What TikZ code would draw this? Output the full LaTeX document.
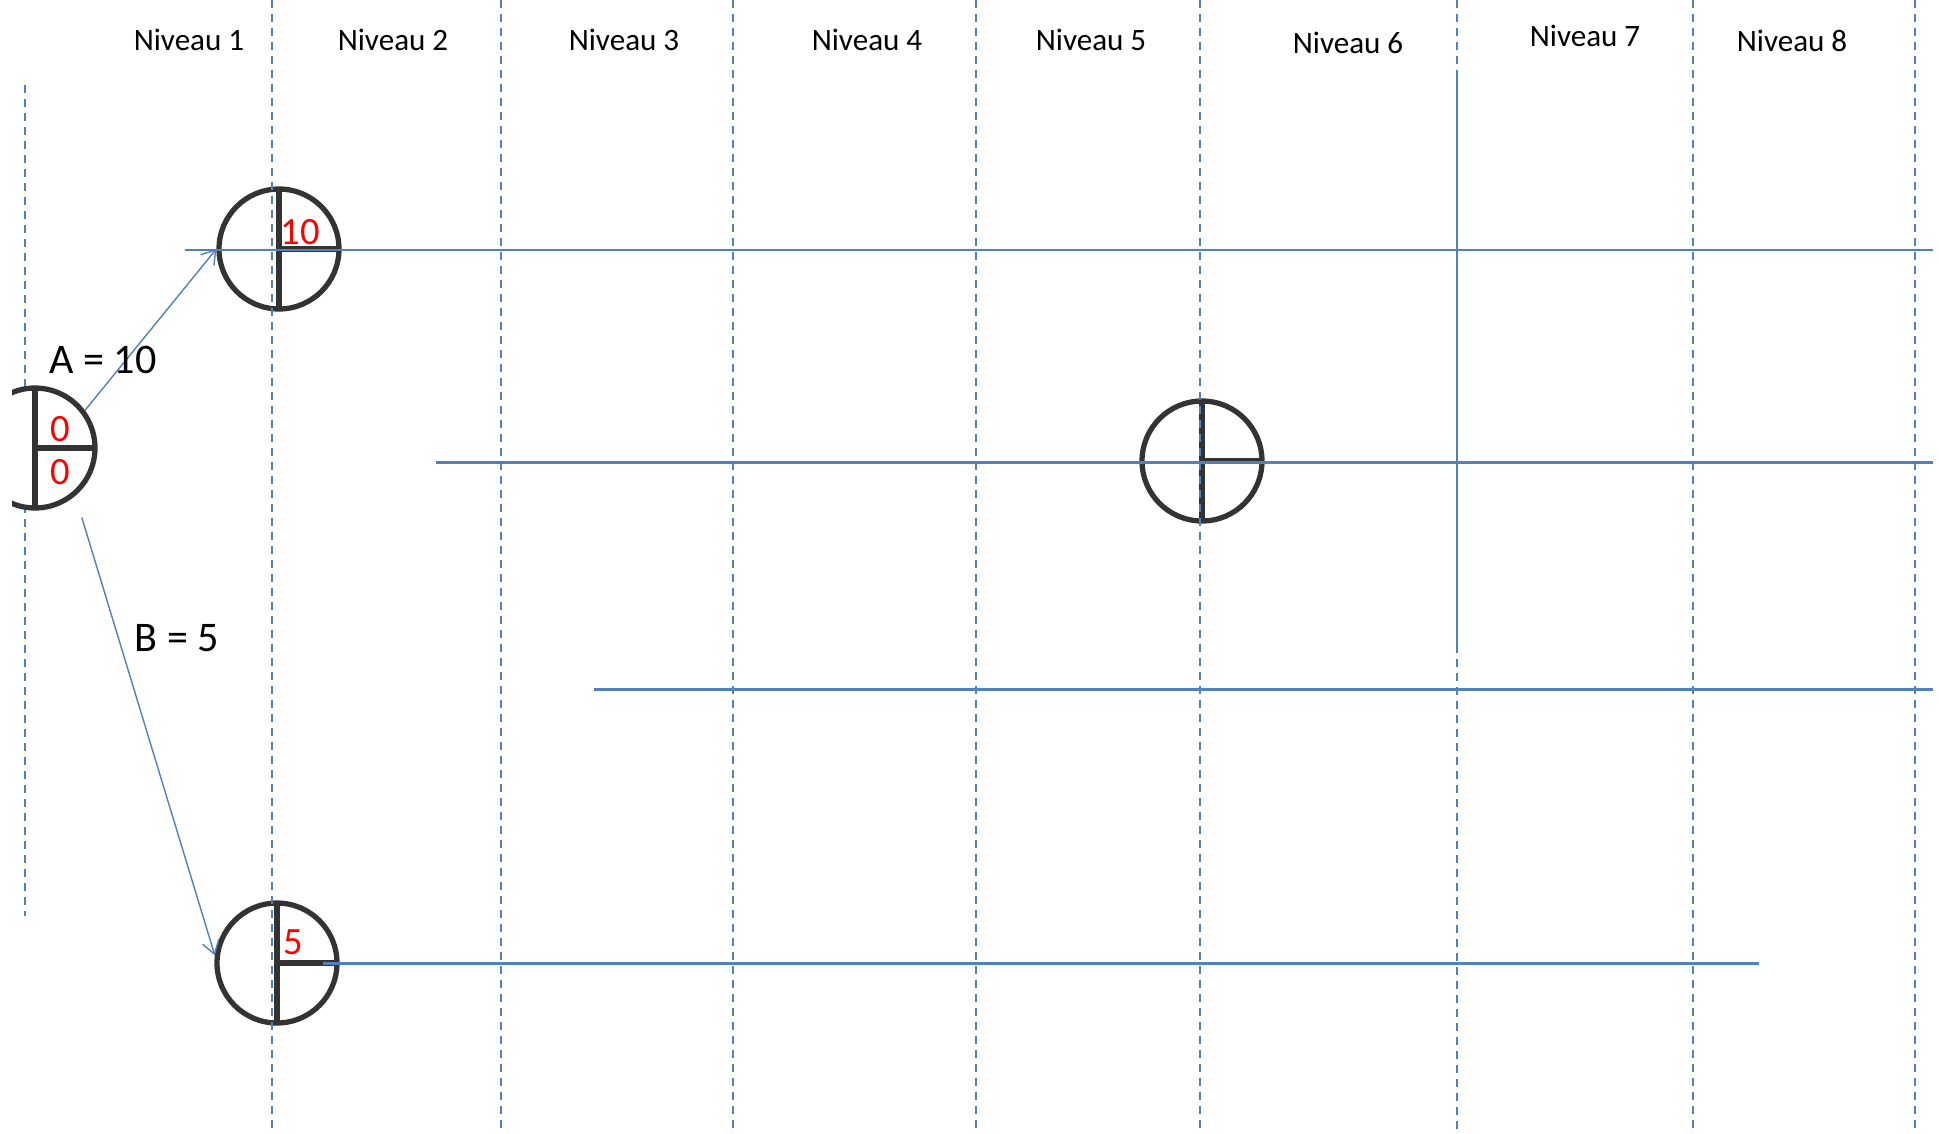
\documentclass[tikz,border=0pt]{standalone}
\usepackage{fontspec}
\setmainfont{Carlito}
\usepackage{tikz}
\usetikzlibrary{arrows.meta, positioning}
\usepackage{xcolor}
\definecolor{GridBlue}{HTML}{4F81BD}
\definecolor{SymbolGray}{HTML}{333333}
\definecolor{ValueRed}{HTML}{FF0000}
\tikzset{
    % Event circles - vertical diameter and right radius
    event/.style={
        circle,
        draw=SymbolGray,
        fill=white,
        line width=3pt,
        minimum size=2.4cm,
        inner sep=0pt,
        path picture={
            \draw[SymbolGray, line width=3pt]
                (path picture bounding box.north) -- (path picture bounding box.south)
                (path picture bounding box.center) -- (path picture bounding box.east);
        }
    },
    value/.style={
        text=ValueRed,
        inner sep=0pt,
        font=\fontsize{22}{24}\selectfont
    },
    header/.style={
        font=\fontsize{17.7}{20}\selectfont
    },
    tasklabel/.style={
        font=\fontsize{24}{28}\selectfont
    },
    % Line styles
    gridline/.style={
        draw=GridBlue,
        line width=1.1pt,
        dash pattern=on 0.16cm off 0.12cm
    },
    solidgrid/.style={
        draw=GridBlue,
        line width=1.1pt
    },
    thinline/.style={
        draw=GridBlue,
        line width=0.9pt
    },
    levelline/.style={
        draw=GridBlue,
        line width=1.7pt
    },
    arrow/.style={
        -{Straight Barb[length=2.6mm, width=3.4mm]},
        line width=0.8pt,
        draw=GridBlue
    }
}

\begin{document}
\begin{tikzpicture}[x=0.02cm, y=-0.02cm]
    \useasboundingbox (0,0) rectangle (1939,1133);
    \clip (12,0) rectangle (1939,1133);

    % Left border line
    \draw[gridline] (25,85) -- (25,916);

    % Events
    \node[event] (start) at (35,448) {};
    \node[event] (eA) at (279,249) {};
    \node[event] (mid) at (1202,461) {};
    \node[event] (eB) at (277,963) {};

    % Level separators
    \draw[gridline] (272,0) -- (272,1133);
    \draw[gridline] (501,0) -- (501,1133);
    \draw[gridline] (733,0) -- (733,1133);
    \draw[gridline] (976,0) -- (976,1133);
    \draw[gridline] (1200,0) -- (1200,1133);
    \draw[gridline] (1457,0) -- (1457,77);
    \draw[solidgrid] (1457,77) -- (1457,645);
    \draw[gridline] (1457,645) -- (1457,1133);
    \draw[gridline] (1693,0) -- (1693,1133);
    \draw[gridline] (1915,0) -- (1915,1133);

    % Horizontal lines
    \draw[thinline] (185,250) -- (1933,250);
    \draw[levelline] (436,462) -- (1933,462);
    \draw[levelline] (594,689) -- (1933,689);
    \draw[levelline] (323,963) -- (1759,963);

    % Headers
    \node[header] (h1) at (189,40) {Niveau 1};
    \node[header] (h2) at (393,40) {Niveau 2};
    \node[header] (h3) at (624,40) {Niveau 3};
    \node[header] (h4) at (867,40) {Niveau 4};
    \node[header] (h5) at (1091,40) {Niveau 5};
    \node[header] (h6) at (1348,43) {Niveau 6};
    \node[header] (h7) at (1585,36) {Niveau 7};
    \node[header] (h8) at (1792,41) {Niveau 8};

    % Tasks
    \draw[arrow] (start.37) -- (eA.west);
    \draw[arrow, shorten <=0.45cm] (start.-50) -- (eB.173);
    \node[tasklabel] (lA) at (103,360) {A = 10};
    \node[tasklabel] (lB) at (177,638) {B = 5};

    % Values
    \node[value] (v0a) at (60,429) {0};
    \node[value] (v0b) at (60,472) {0};
    \node[value] (vA) at (300,232) {10};
    \node[value] (vB) at (293,942) {5};
\end{tikzpicture}
\end{document}
